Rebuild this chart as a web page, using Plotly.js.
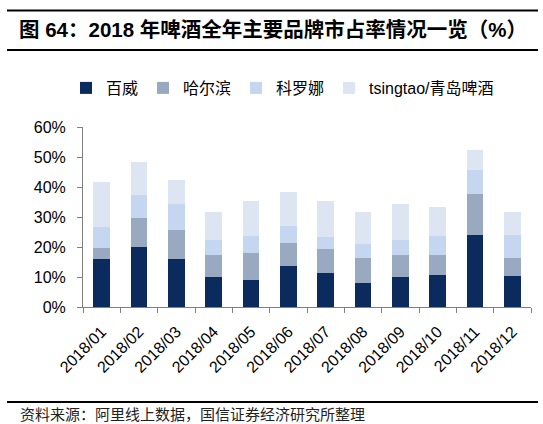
<!DOCTYPE html>
<html>
<head>
<meta charset="utf-8">
<script src="https://cdn.plot.ly/plotly-3.0.1.min.js"></script>
<style>
html,body{margin:0;padding:0;background:#fff;}
#chart{width:543px;height:424px;}
</style>
</head>
<body>
<div id="chart"></div>
<script>
var months = ['2018/01','2018/02','2018/03','2018/04','2018/05','2018/06','2018/07','2018/08','2018/09','2018/10','2018/11','2018/12'];
var budweiser = [16.1, 20.0, 16.1, 10.0, 8.9, 13.8, 11.5, 7.9, 10.0, 10.6, 24.0, 10.4];
var harbin    = [3.6, 9.6, 9.6, 7.4, 9.0, 7.6, 7.9, 8.4, 7.3, 6.6, 13.6, 6.0];
var corona    = [6.9, 7.8, 8.6, 4.9, 5.8, 5.5, 3.8, 4.7, 5.1, 6.5, 8.2, 7.7];
var tsingtao  = [15.2, 10.9, 8.1, 9.3, 11.7, 11.6, 12.1, 10.7, 12.0, 9.5, 6.6, 7.5];
var seriesNames = ['百威', '哈尔滨', '科罗娜', 'tsingtao/青岛啤酒'];
var colors = ['#0b2b5e', '#98a9c0', '#c5d6f0', '#dce5f1'];
var titleText = '图 64：2018 年啤酒全年主要品牌市占率情况一览（%）';
var sourceText = '资料来源：阿里线上数据，国信证券经济研究所整理';

var W = 543, H = 424;
var L = 83, R = 531, T = 127, B = 307;
function px(x){ return (x - L) / (R - L); }
function py(y){ return (B - y) / (B - T); }

var seriesData = [budweiser, harbin, corona, tsingtao];
var traces = seriesData.map(function(vals, i){
  return {
    type: 'bar',
    name: seriesNames[i],
    x: months,
    y: vals,
    marker: {color: colors[i], line: {width: 0}},
    hoverinfo: 'skip'
  };
});

var cjk = 'Liberation Sans, Arial, "Noto Sans CJK SC", sans-serif';

var layout = {
  width: W, height: H,
  margin: {l: L, r: W - R, t: T, b: H - B, pad: 0},
  paper_bgcolor: '#fff',
  plot_bgcolor: '#fff',
  barmode: 'stack',
  bargap: 0.56,
  showlegend: true,
  font: {family: cjk, color: '#000', size: 16},
  title: {
    text: titleText,
    x: 19 / W, xref: 'container', xanchor: 'left',
    y: 1 - 30 / H, yref: 'container', yanchor: 'middle',
    font: {family: cjk, size: 20.5, weight: 'bold', color: '#000'}
  },
  legend: {
    orientation: 'h',
    x: px(66), xanchor: 'left',
    y: py(88), yanchor: 'middle',
    font: {family: cjk, size: 16, color: '#000'},
    itemwidth: 30,
    traceorder: 'normal',
    bgcolor: 'rgba(0,0,0,0)'
  },
  xaxis: {
    type: 'category',
    showgrid: false,
    showline: true, linecolor: '#808080', linewidth: 1,
    ticks: 'outside', tickson: 'boundaries', ticklen: 5, tickcolor: '#808080',
    tickangle: -45,
    ticklabelstandoff: 8,
    tickfont: {family: 'Liberation Sans, Arial, sans-serif', size: 16, color: '#000'},
    zeroline: false
  },
  yaxis: {
    range: [0, 60],
    dtick: 10,
    ticksuffix: '%',
    showgrid: false,
    showline: true, linecolor: '#808080', linewidth: 1,
    ticks: 'outside', ticklen: 5, tickcolor: '#808080',
    ticklabelstandoff: 8,
    tickfont: {family: 'Liberation Sans, Arial, sans-serif', size: 16, color: '#000'},
    zeroline: false
  },
  shapes: [
    {type: 'line', xref: 'paper', yref: 'paper', x0: px(7), x1: px(538), y0: py(10.5), y1: py(10.5), line: {color: '#000', width: 2}},
    {type: 'line', xref: 'paper', yref: 'paper', x0: px(7), x1: px(538), y0: py(50), y1: py(50), line: {color: '#000', width: 2}},
    {type: 'line', xref: 'paper', yref: 'paper', x0: px(7), x1: px(538), y0: py(402), y1: py(402), line: {color: '#000', width: 2}}
  ],
  annotations: [
    {text: sourceText, xref: 'paper', yref: 'paper', x: px(18), y: py(413), xanchor: 'left', yanchor: 'middle', showarrow: false,
     font: {family: '"Noto Sans CJK SC", sans-serif', size: 15, color: '#222'}}
  ]
};

Plotly.newPlot('chart', traces, layout, {staticPlot: true, displayModeBar: false});
</script>
</body>
</html>
